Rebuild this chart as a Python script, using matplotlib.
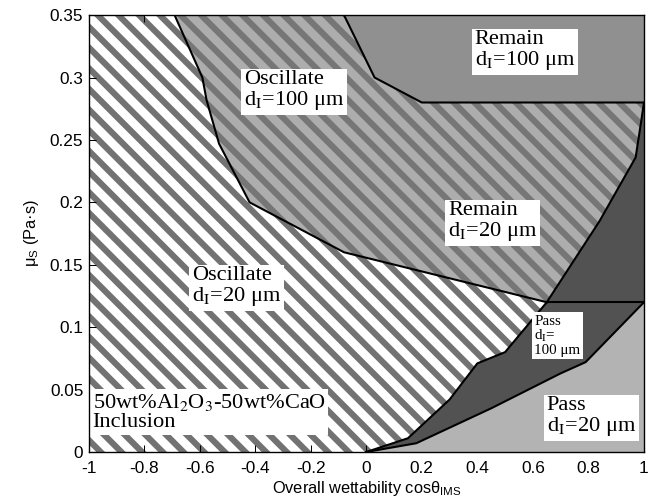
import matplotlib
matplotlib.use("Agg")
import matplotlib.pyplot as plt
from matplotlib.ticker import FormatStrFormatter

# region boundaries (cos theta, viscosity Pa s)
osc_x = [-0.69, -0.59, -0.575, -0.53, -0.42, -0.08, 0.65]
osc_y = [0.35, 0.30, 0.282, 0.247, 0.20, 0.16, 0.12]
remain20_x = [0.65, 0.84, 0.97, 0.99, 1.0]
remain20_y = [0.12, 0.185, 0.236, 0.265, 0.28]
remain100_x = [-0.08, 0.03, 0.2, 1.0]
remain100_y = [0.35, 0.30, 0.28, 0.28]
pass100_x = [0.0, 0.15, 0.30, 0.40, 0.50, 0.65]
pass100_y = [0.0, 0.011, 0.042, 0.071, 0.08, 0.12]
pass20_x = [0.0, 0.18, 0.45, 0.70, 0.79, 1.0]
pass20_y = [0.0, 0.007, 0.035, 0.063, 0.072, 0.12]

xticks = [-1, -0.8, -0.6, -0.4, -0.2, 0, 0.2, 0.4, 0.6, 0.8, 1]
yticks = [0, 0.05, 0.1, 0.15, 0.2, 0.25, 0.3, 0.35]

plt.rcParams['font.family'] = ['Liberation Sans', 'DejaVu Sans']
plt.rcParams['mathtext.fontset'] = 'custom'
plt.rcParams['mathtext.rm'] = 'Liberation Sans'
plt.rcParams['hatch.linewidth'] = 3.6

DPI = 124
fig = plt.figure(figsize=(658 / DPI, 504 / DPI), dpi=DPI)
ax = fig.add_axes([0.1345, 0.1032, 0.8442, 0.8668])
ax.set_xlim(-1, 1)
ax.set_ylim(0, 0.35)

# oscillate d=20: white with dark stripes, fills the whole box underneath
ax.fill([-1, 1, 1, -1], [0, 0, 0.35, 0.35], facecolor='white',
        edgecolor='#727272', hatch='\\\\', linewidth=0, zorder=1)

# hatched grey region (oscillate 100 / remain 20)
bx = osc_x + remain20_x[1:] + remain100_x[::-1]
by = osc_y + remain20_y[1:] + remain100_y[::-1]
ax.fill(bx, by, facecolor='#adadad', edgecolor='#767676', hatch='\\\\',
        linewidth=0, zorder=2)

# remain d=100: solid grey
ax.fill(remain100_x + [1.0], remain100_y + [0.35], color='#909090',
        linewidth=0, zorder=3)

# pass d=100: dark grey
dx = remain20_x + [1.0] + pass20_x[::-1] + pass100_x
dy = remain20_y + [0.12] + pass20_y[::-1] + pass100_y
ax.fill(dx, dy, color='#525252', linewidth=0, zorder=3)

# pass d=20: light grey
ax.fill(pass20_x + [1.0], pass20_y + [0.0], color='#b3b3b3',
        linewidth=0, zorder=3)

lw = 1.2
for xs, ys in [(osc_x, osc_y), (remain20_x, remain20_y),
               (remain100_x, remain100_y), (pass100_x, pass100_y),
               (pass20_x, pass20_y), ([0.65, 1.0], [0.12, 0.12])]:
    ax.plot(xs, ys, color='black', lw=lw, zorder=4)

box = dict(facecolor='white', edgecolor='none', pad=1.5)
kw = dict(family='Liberation Serif', math_fontfamily='stix', ha='left',
          va='top', linespacing=1.0, zorder=5, bbox=box)
ax.text(-0.44, 0.306, 'Oscillate\nd$_\\mathrm{I}$=100 μm', fontsize=13, **kw)
ax.text(0.39, 0.338, 'Remain\nd$_\\mathrm{I}$=100 μm', fontsize=13, **kw)
ax.text(0.295, 0.201, 'Remain\nd$_\\mathrm{I}$=20 μm', fontsize=13, **kw)
ax.text(-0.628, 0.149, 'Oscillate\nd$_\\mathrm{I}$=20 μm', fontsize=13, **kw)
ax.text(0.605, 0.110, 'Pass\nd$_\\mathrm{I}$=\n100 μm', fontsize=8.7, **kw)
ax.text(0.65, 0.045, 'Pass\nd$_\\mathrm{I}$=20 μm', fontsize=13, **kw)
ax.text(-0.985, 0.048, '50wt%Al$_2$O$_3$-50wt%CaO\nInclusion', fontsize=13, **kw)

ax.set_xticks(xticks)
ax.set_yticks(yticks)
ax.xaxis.set_major_formatter(FormatStrFormatter('%g'))
ax.yaxis.set_major_formatter(FormatStrFormatter('%g'))
ax.tick_params(direction='in', top=True, right=True, length=4, width=0.6,
               labelsize=10)
ax.tick_params(axis='x', pad=5)
ax.tick_params(axis='y', pad=3)
for s in ax.spines.values():
    s.set_linewidth(0.8)
    s.set_zorder(6)

ax.set_xlabel('Overall wettability cosθ$_\\mathrm{IMS}$', fontsize=9.5, labelpad=2)
ax.set_ylabel('μ$_\\mathrm{S}$ (Pa·s)', fontsize=9.5, labelpad=5)

fig.savefig('out.png', dpi=DPI)
